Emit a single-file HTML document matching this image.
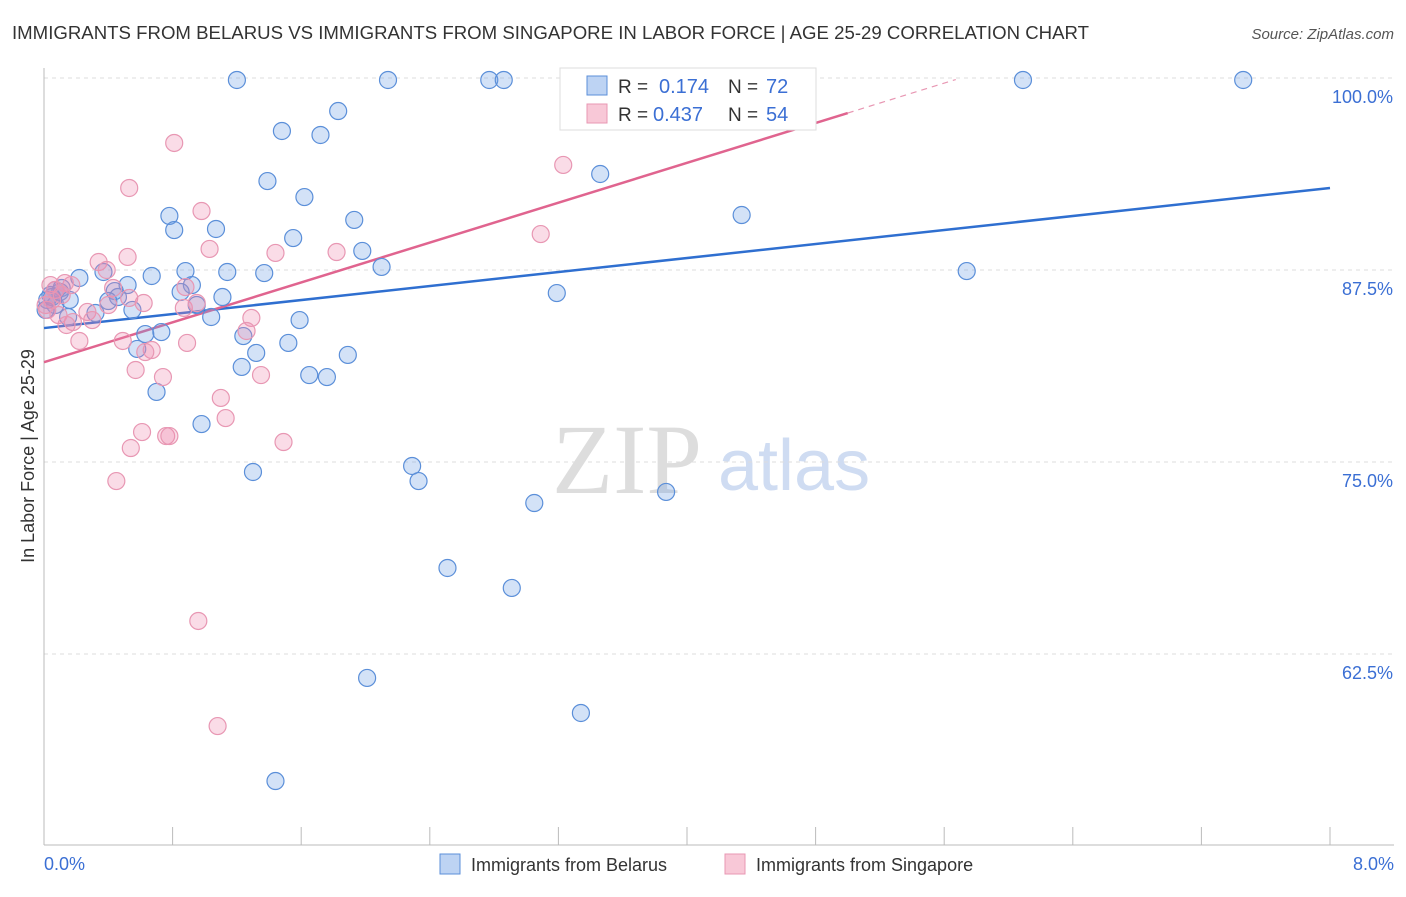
<!DOCTYPE html>
<html><head><meta charset="utf-8"><style>
body{margin:0;background:#fff;font-family:"Liberation Sans",sans-serif;}
</style></head><body>
<svg id="chart" width="1406" height="892" font-family="Liberation Sans, sans-serif">
<text x="12" y="39" font-size="18" fill="#333" textLength="1077" lengthAdjust="spacingAndGlyphs">IMMIGRANTS FROM BELARUS VS IMMIGRANTS FROM SINGAPORE IN LABOR FORCE | AGE 25-29 CORRELATION CHART</text>
<text x="1394" y="39" font-size="15" fill="#555" text-anchor="end" font-style="italic">Source: ZipAtlas.com</text>
<text x="34" y="456" font-size="18" fill="#333" text-anchor="middle" transform="rotate(-90 34 456)">In Labor Force | Age 25-29</text>
<g>
<text x="552" y="493" font-size="100" fill="#ddd" font-family="Liberation Serif, serif">ZIP</text>
<text x="718" y="490" font-size="72" fill="#cfdcf2">atlas</text>
</g>
<g id="grid"></g><g id="axes"></g><g id="lines"></g><g id="dots"></g>
<g>
<rect x="560" y="68" width="256" height="62" fill="#fff" stroke="#ddd"/>
<rect x="587" y="76" width="20" height="19" fill="#bdd3f3" stroke="#5b8fd9"/>
<rect x="587" y="104" width="20" height="19" fill="#f8c8d7" stroke="#e897b3"/>
<text x="618" y="93" font-size="19" fill="#333">R =</text>
<text x="659" y="93" font-size="20" fill="#3b6fd4">0.174</text>
<text x="728" y="93" font-size="19" fill="#333">N =</text>
<text x="766" y="93" font-size="20" fill="#3b6fd4">72</text>
<text x="618" y="121" font-size="19" fill="#333">R =</text>
<text x="653" y="121" font-size="20" fill="#3b6fd4">0.437</text>
<text x="728" y="121" font-size="19" fill="#333">N =</text>
<text x="766" y="121" font-size="20" fill="#3b6fd4">54</text>
</g>
<g>
<rect x="440" y="854" width="20" height="20" fill="#bdd3f3" stroke="#5b8fd9"/>
<text x="471" y="871" font-size="18" fill="#333">Immigrants from Belarus</text>
<rect x="725" y="854" width="20" height="20" fill="#f8c8d7" stroke="#e897b3"/>
<text x="756" y="871" font-size="18" fill="#333">Immigrants from Singapore</text>
</g>
</svg>
<script>
const yTicks=[100,87.5,75,62.5];
const yTickLabels=["100.0%","87.5%","75.0%","62.5%"];
const xTicks=[0,0.8,1.6,2.4,3.2,4,4.8,5.6,6.4,7.2,8];
const xEndLabels=["0.0%","8.0%"];
const belarusX=[1.2,2.14,2.77,2.86,6.09,7.46,1.83,1.48,1.72,3.46,1.39,1.62,0.78,4.34,0.81,1.07,1.93,1.55,1.98,2.1,0.88,1.14,1.37,0.67,0.22,0.37,5.74,0.52,0.92,0.07,0.11,0.44,0.85,1.11,3.19,0.46,0.4,0.95,0.55,0.32,1.04,1.59,0.15,0.63,0.73,1.24,1.52,0.58,1.32,1.89,1.23,1.65,1.76,0.7,0.98,2.29,2.33,1.3,3.87,3.05,2.51,2.91,2.01,3.34,1.44,0.04,0.02,0.07,0.1,0.01,0.05,0.16];
const belarusY=[99.87,99.87,99.87,99.87,99.87,99.87,97.85,96.55,96.29,93.75,93.29,92.25,91.02,91.08,90.10,90.17,90.76,89.58,88.74,87.70,87.43,87.37,87.30,87.11,86.98,87.37,87.43,86.52,86.52,86.20,86.33,86.13,86.07,85.74,86.00,85.74,85.48,85.22,84.90,84.70,84.44,84.24,84.44,83.33,83.46,83.20,82.75,82.36,82.10,81.97,81.19,80.66,80.53,79.56,77.47,74.74,73.76,74.35,73.05,72.33,68.10,66.80,60.94,58.66,54.23,85.87,85.55,85.22,86.07,84.90,85.74,85.55];
const singX=[0.81,0.53,0.98,3.23,3.09,1.03,1.44,1.82,0.52,0.34,0.39,0.17,0.13,0.43,0.88,0.53,0.62,0.4,0.87,0.95,0.27,1.29,0.18,0.3,1.26,0.49,0.22,0.89,0.67,0.63,0.57,1.35,0.74,1.1,1.13,0.61,0.76,0.78,1.49,0.54,0.45,0.96,1.08,3.65,3.74,3.83,0.05,0.02,0.07,0.11,0.01,0.09,0.14,0.04];
const singY=[95.77,92.84,91.34,94.34,89.84,88.87,88.61,88.67,88.35,88.02,87.50,86.52,86.65,86.33,86.39,85.68,85.35,85.22,85.03,85.35,84.77,84.38,84.11,84.24,83.53,82.88,82.88,82.75,82.29,82.16,80.99,80.66,80.53,79.17,77.86,76.95,76.69,76.69,76.30,75.91,73.76,64.65,57.81,99.87,99.87,99.87,85.55,84.90,86.20,85.87,85.22,84.57,83.92,86.52];
const belarusTrend=[[0,83.72],[8,92.84]];
const singTrend=[[0,81.5],[5,97.72]];
const singTrendExt=[5,99.9];
const X0=44,X1=1330,YB=845;
const xs=v=>X0+v/8*(X1-X0);
const ys=v=>78+(100-v)/12.5*192;
const NS="http://www.w3.org/2000/svg";
function mk(tag,attrs,parent){const e=document.createElementNS(NS,tag);for(const k in attrs)e.setAttribute(k,attrs[k]);document.getElementById(parent).appendChild(e);return e;}
yTicks.forEach((t,i)=>{
 const l=mk('line',{x1:X0,x2:1394,y1:ys(t),y2:ys(t),stroke:'#ddd','stroke-dasharray':'4 4'},'grid');
 
 
 const tx=mk('text',{x:1393,y:ys(t)+25,'font-size':18,fill:'#3b6fd4','text-anchor':'end'},'grid');
 tx.textContent=yTickLabels[i];
 
 
});
const ya=mk('line',{x1:X0,x2:X0,y1:68,y2:YB,stroke:'#bbb'},'axes');


const xa=mk('line',{x1:X0,x2:1394,y1:YB,y2:YB,stroke:'#bbb'},'axes');


xTicks.forEach(t=>{
 const l=mk('line',{x1:xs(t),x2:xs(t),y1:YB-18,y2:YB,stroke:'#bbb'},'axes');
 
 
});
[[0,'start',44],[8,'end',1394]].forEach((d,i)=>{
 const tx=mk('text',{x:d[2],y:870,'font-size':18,fill:'#3b6fd4','text-anchor':d[1]},'axes');
 tx.textContent=xEndLabels[i];
 
 
});
function dots(X,Y,fill,stroke,name){X.forEach((x,i)=>{
 const c=mk('circle',{cx:xs(x),cy:ys(Y[i]),r:8.5,fill:fill,stroke:stroke,'stroke-width':1.2},'dots');
 
 
});}
dots(belarusX,belarusY,'rgba(110,160,230,0.3)','#5b8fd9','belarus-point');
dots(singX,singY,'rgba(240,140,175,0.3)','#e897b3','singapore-point');
const bl=mk('line',{x1:xs(belarusTrend[0][0]),y1:ys(belarusTrend[0][1]),x2:xs(belarusTrend[1][0]),y2:ys(belarusTrend[1][1]),stroke:'#2f6fd0','stroke-width':2.5},'lines');


const sl=mk('line',{x1:xs(singTrend[0][0]),y1:ys(singTrend[0][1]),x2:xs(singTrend[1][0]),y2:ys(singTrend[1][1]),stroke:'#e0648f','stroke-width':2.5},'lines');


const se=mk('line',{x1:xs(singTrend[1][0]),y1:ys(singTrend[1][1]),x2:xs(5+(singTrendExt[1]-singTrend[1][1])/((singTrend[1][1]-singTrend[0][1])/5)),y2:ys(singTrendExt[1]),stroke:'#e897b3','stroke-width':1.2,'stroke-dasharray':'6 5'},'lines');


</script>
</body></html>
